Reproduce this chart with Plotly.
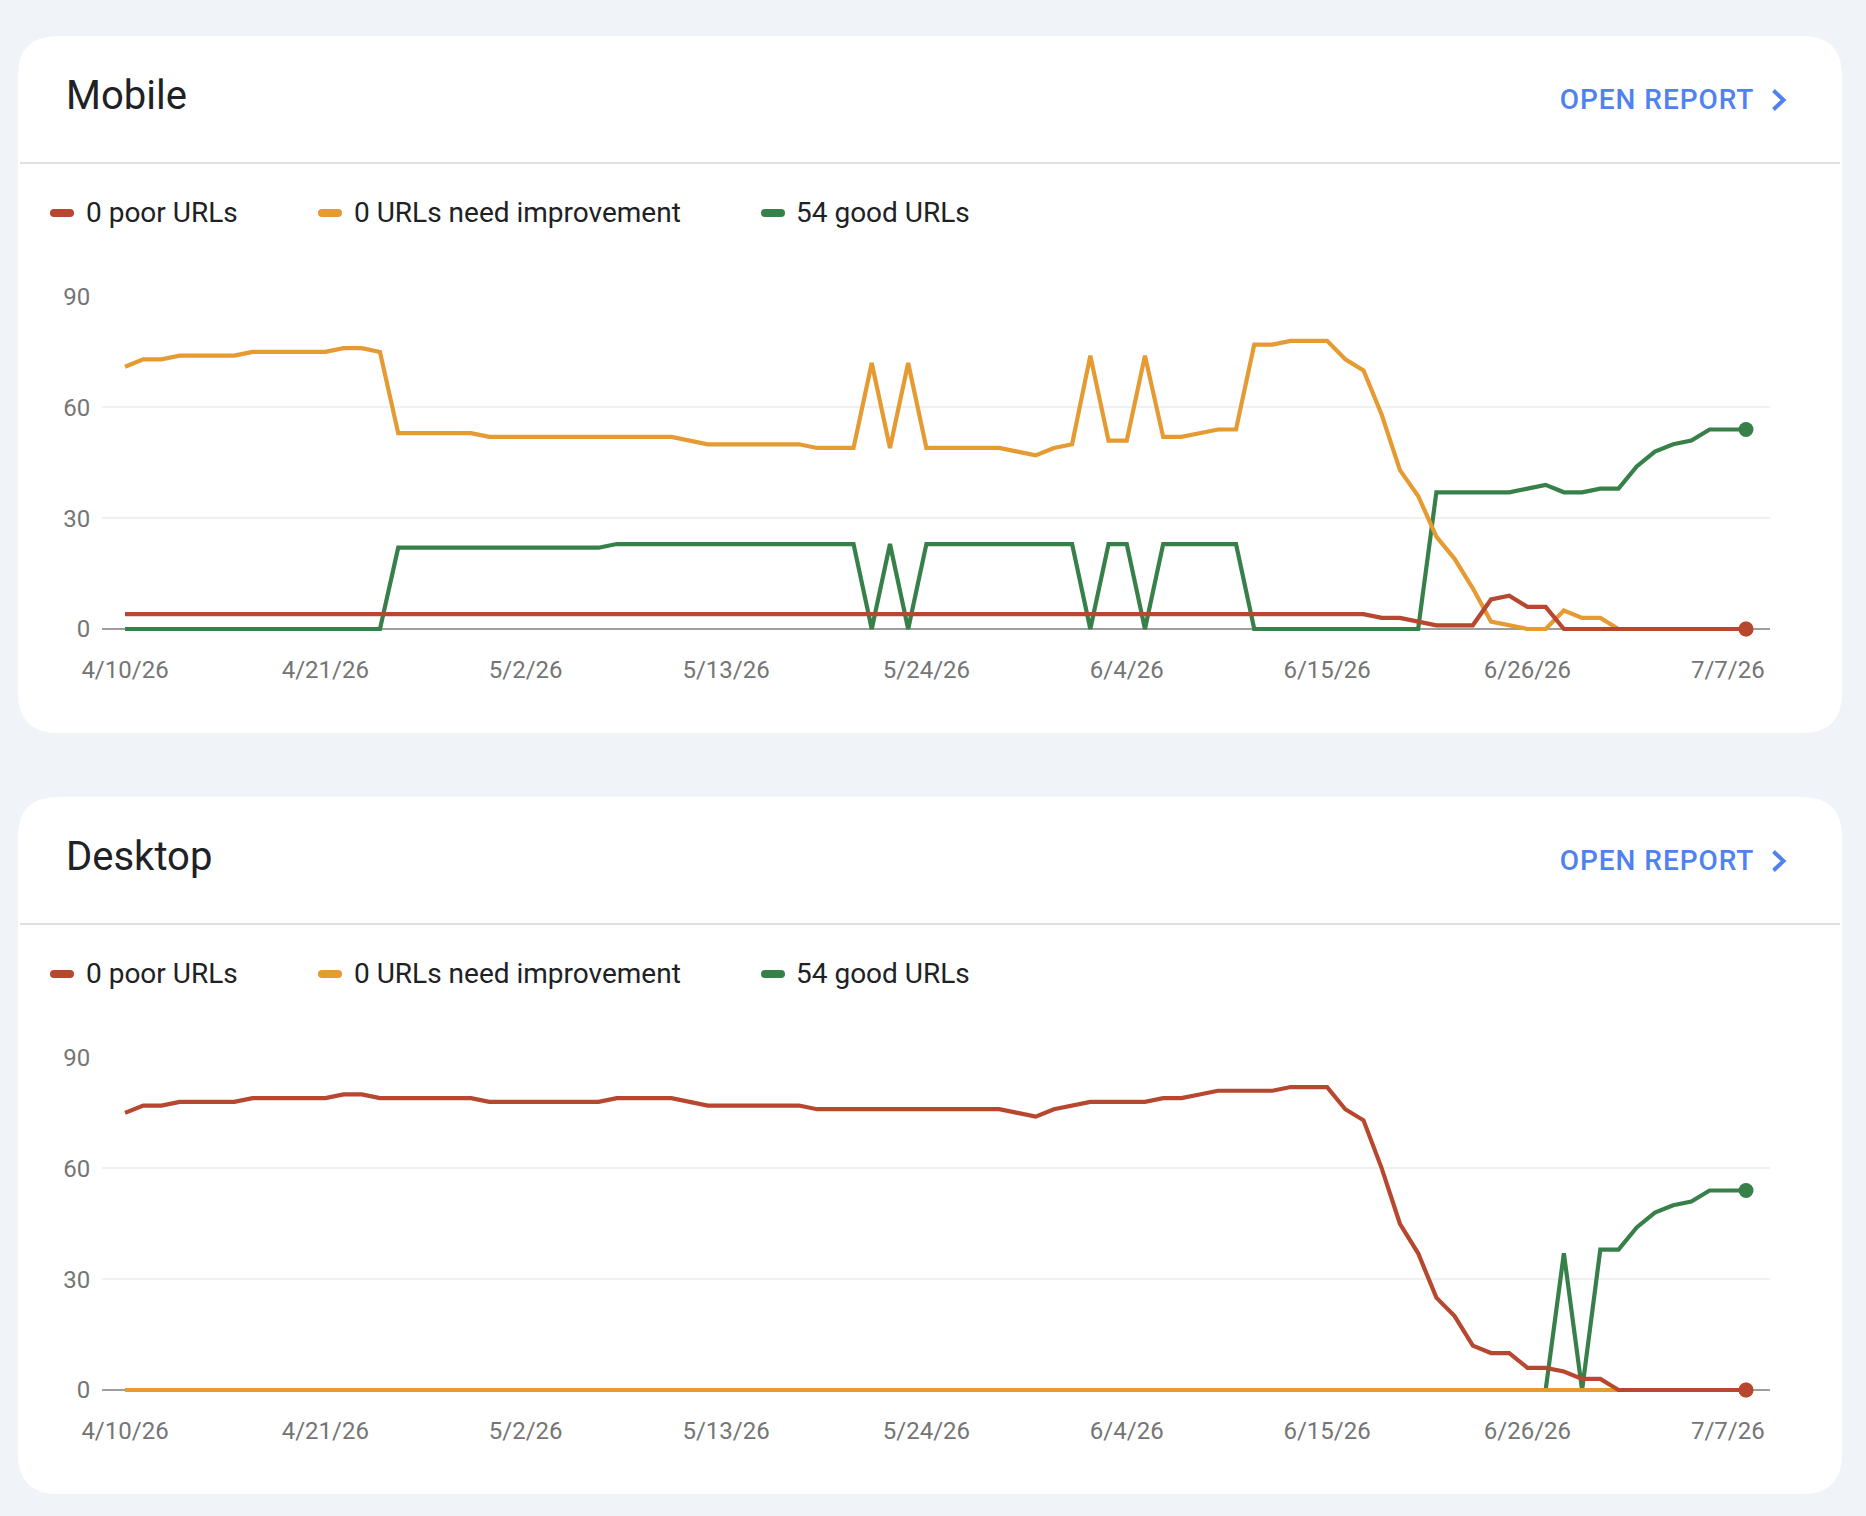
import pandas as pd
import plotly.graph_objects as go

W, H = 1866, 1516
FONT = "Roboto"

# ---- data ----
start_date = "2026-04-10"
n_days = 90
tick_dates = ["2026-04-10", "2026-04-21", "2026-05-02", "2026-05-13", "2026-05-24",
              "2026-06-04", "2026-06-15", "2026-06-26", "2026-07-07"]
tick_labels = ["4/10/26", "4/21/26", "5/2/26", "5/13/26", "5/24/26",
               "6/4/26", "6/15/26", "6/26/26", "7/7/26"]
y_ticks = [0, 30, 60, 90]
card_titles = ["Mobile", "Desktop"]
link_label = "OPEN REPORT"
legend_labels = ["0 poor URLs", "0 URLs need improvement", "54 good URLs"]

mobile_poor = [4, 4, 4, 4, 4, 4, 4, 4, 4, 4,
               4, 4, 4, 4, 4, 4, 4, 4, 4, 4,
               4, 4, 4, 4, 4, 4, 4, 4, 4, 4,
               4, 4, 4, 4, 4, 4, 4, 4, 4, 4,
               4, 4, 4, 4, 4, 4, 4, 4, 4, 4,
               4, 4, 4, 4, 4, 4, 4, 4, 4, 4,
               4, 4, 4, 4, 4, 4, 4, 4, 4, 3,
               3, 2, 1, 1, 1, 8, 9, 6, 6, 0,
               0, 0, 0, 0, 0, 0, 0, 0, 0, 0]
mobile_need = [71, 73, 73, 74, 74, 74, 74, 75, 75, 75,
               75, 75, 76, 76, 75, 53, 53, 53, 53, 53,
               52, 52, 52, 52, 52, 52, 52, 52, 52, 52,
               52, 51, 50, 50, 50, 50, 50, 50, 49, 49,
               49, 72, 49, 72, 49, 49, 49, 49, 49, 48,
               47, 49, 50, 74, 51, 51, 74, 52, 52, 53,
               54, 54, 77, 77, 78, 78, 78, 73, 70, 58,
               43, 36, 25, 19, 11, 2, 1, 0, 0, 5,
               3, 3, 0, 0, 0, 0, 0, 0, 0, 0]
mobile_good = [0, 0, 0, 0, 0, 0, 0, 0, 0, 0,
               0, 0, 0, 0, 0, 22, 22, 22, 22, 22,
               22, 22, 22, 22, 22, 22, 22, 23, 23, 23,
               23, 23, 23, 23, 23, 23, 23, 23, 23, 23,
               23, 0, 23, 0, 23, 23, 23, 23, 23, 23,
               23, 23, 23, 0, 23, 23, 0, 23, 23, 23,
               23, 23, 0, 0, 0, 0, 0, 0, 0, 0,
               0, 0, 37, 37, 37, 37, 37, 38, 39, 37,
               37, 38, 38, 44, 48, 50, 51, 54, 54, 54]

desktop_poor = [75, 77, 77, 78, 78, 78, 78, 79, 79, 79,
                79, 79, 80, 80, 79, 79, 79, 79, 79, 79,
                78, 78, 78, 78, 78, 78, 78, 79, 79, 79,
                79, 78, 77, 77, 77, 77, 77, 77, 76, 76,
                76, 76, 76, 76, 76, 76, 76, 76, 76, 75,
                74, 76, 77, 78, 78, 78, 78, 79, 79, 80,
                81, 81, 81, 81, 82, 82, 82, 76, 73, 60,
                45, 37, 25, 20, 12, 10, 10, 6, 6, 5,
                3, 3, 0, 0, 0, 0, 0, 0, 0, 0]
desktop_need = [0, 0, 0, 0, 0, 0, 0, 0, 0, 0,
                0, 0, 0, 0, 0, 0, 0, 0, 0, 0,
                0, 0, 0, 0, 0, 0, 0, 0, 0, 0,
                0, 0, 0, 0, 0, 0, 0, 0, 0, 0,
                0, 0, 0, 0, 0, 0, 0, 0, 0, 0,
                0, 0, 0, 0, 0, 0, 0, 0, 0, 0,
                0, 0, 0, 0, 0, 0, 0, 0, 0, 0,
                0, 0, 0, 0, 0, 0, 0, 0, 0, 0,
                0, 0, 0, 0, 0, 0, 0, 0, 0, 0]
desktop_good = [0, 0, 0, 0, 0, 0, 0, 0, 0, 0,
                0, 0, 0, 0, 0, 0, 0, 0, 0, 0,
                0, 0, 0, 0, 0, 0, 0, 0, 0, 0,
                0, 0, 0, 0, 0, 0, 0, 0, 0, 0,
                0, 0, 0, 0, 0, 0, 0, 0, 0, 0,
                0, 0, 0, 0, 0, 0, 0, 0, 0, 0,
                0, 0, 0, 0, 0, 0, 0, 0, 0, 0,
                0, 0, 0, 0, 0, 0, 0, 0, 0, 37,
                0, 38, 38, 44, 48, 50, 51, 54, 54, 54]

# ---- style ----
BG = "#f0f4f9"
RED = "#b7472f"
ORANGE = "#e59a32"
GREEN = "#37804a"
BLUE = "#4f82ee"
TEXT = "#202124"
TICK = "#757575"
GRID = "#f0f0f0"
ZERO = "#9e9e9e"
SEP = "#e0e0e0"

dates = pd.date_range(start_date, periods=n_days)
PLOT_L, PLOT_R = 102, 1770
FIRST_X, LAST_X = 125, 1746
day_px = (LAST_X - FIRST_X) / (n_days - 1)
x_range = [dates[0] - pd.Timedelta(days=(FIRST_X - PLOT_L) / day_px),
           dates[-1] + pd.Timedelta(days=(PLOT_R - LAST_X) / day_px)]
x_range = [d.isoformat() for d in x_range]
Y_FLOOR = -3
Y_UNIT = (629 - 296.5) / 90


def px(x):
    return x / W


def py(y):
    return 1 - y / H


def rounded(x0, y0, x1, y1, r):
    X0, X1, Y0, Y1 = px(x0), px(x1), py(y0), py(y1)
    rx, ry = r / W, r / H
    return (f"M{X0 + rx},{Y0} L{X1 - rx},{Y0} Q{X1},{Y0} {X1},{Y0 - ry} "
            f"L{X1},{Y1 + ry} Q{X1},{Y1} {X1 - rx},{Y1} L{X0 + rx},{Y1} "
            f"Q{X0},{Y1} {X0},{Y1 + ry} L{X0},{Y0 - ry} Q{X0},{Y0} {X0 + rx},{Y0} Z")


fig = go.Figure()
shapes, annotations = [], []
OFFSET = 761
cards = [(card_titles[0], mobile_poor, mobile_need, mobile_good, "", 0),
         (card_titles[1], desktop_poor, desktop_need, desktop_good, "2", OFFSET)]

legend_items = [(50, 83.5, RED), (318, 351.5, ORANGE), (761, 794, GREEN)]

for title, poor, need, good, suffix, dy in cards:
    # card
    shapes.append(dict(type="path", xref="paper", yref="paper", layer="below",
                       path=rounded(18, 36 + dy, 1842, 733 + dy, 40),
                       fillcolor="#ffffff", line=dict(width=0)))
    # separator
    shapes.append(dict(type="line", xref="paper", yref="paper", layer="below",
                       x0=px(20), x1=px(1840), y0=py(163 + dy), y1=py(163 + dy),
                       line=dict(color=SEP, width=2)))
    # title
    annotations.append(dict(text=title, xref="paper", yref="paper", x=px(63.5), y=py(95.3 + dy),
                            xanchor="left", yanchor="middle", showarrow=False,
                            font=dict(family=FONT, size=40, color=TEXT)))
    # link
    annotations.append(dict(text=link_label, xref="paper", yref="paper", x=px(1562.5), y=py(99 + dy),
                            xanchor="left", yanchor="middle", showarrow=False,
                            font=dict(family=FONT, size=28, color=BLUE, weight=500)))
    shapes.append(dict(type="path", xref="paper", yref="paper",
                       path=(f"M{px(1773.5)},{py(90.5 + dy)} L{px(1783.5)},{py(100 + dy)} "
                             f"L{px(1773.5)},{py(109.5 + dy)}"),
                       line=dict(color=BLUE, width=4)))
    # legend
    for (sx, tx, col), label in zip(legend_items, legend_labels):
        shapes.append(dict(type="path", xref="paper", yref="paper",
                           path=rounded(sx, 209 + dy, sx + 24, 217 + dy, 4),
                           fillcolor=col, line=dict(width=0)))
        annotations.append(dict(text=label, xref="paper", yref="paper", x=px(tx), y=py(212.5 + dy),
                                xanchor="left", yanchor="middle", showarrow=False,
                                font=dict(family=FONT, size=28, color=TEXT)))
    # axes
    floor_px = 629 + dy - Y_FLOOR * Y_UNIT
    fig.update_layout({
        f"xaxis{suffix}": dict(domain=[px(PLOT_L), px(PLOT_R)], range=x_range, type="date",
                               tickmode="array", tickvals=tick_dates, ticktext=tick_labels,
                               showgrid=False, zeroline=False, showline=False, automargin=False,
                               ticks="outside", ticklen=8.4, tickcolor="rgba(0,0,0,0)",
                               tickfont=dict(family=FONT, size=24, color=TICK),
                               anchor=f"y{suffix}", fixedrange=True),
        f"yaxis{suffix}": dict(domain=[py(floor_px), py(296.5 + dy)], range=[Y_FLOOR, 90],
                               tickmode="array", tickvals=y_ticks, automargin=False,
                               showgrid=True, gridcolor=GRID, gridwidth=2,
                               zeroline=True, zerolinecolor=ZERO, zerolinewidth=2,
                               showline=False, ticks="outside", ticklen=6,
                               tickcolor="rgba(0,0,0,0)",
                               tickfont=dict(family=FONT, size=24, color=TICK),
                               anchor=f"x{suffix}", fixedrange=True),
    })
    # traces: green below, then orange, red on top
    for series, col, label in ((good, GREEN, legend_labels[2]),
                               (need, ORANGE, legend_labels[1]),
                               (poor, RED, legend_labels[0])):
        sizes = [0] * (len(series) - 1) + [15]
        fig.add_trace(go.Scatter(x=dates, y=series, mode="lines+markers", name=label,
                                 xaxis=f"x{suffix}", yaxis=f"y{suffix}", cliponaxis=False,
                                 line=dict(color=col, width=4.2, shape="linear"),
                                 marker=dict(color=col, size=sizes, opacity=1, line=dict(width=0)),
                                 showlegend=False, hoverinfo="skip"))

fig.update_layout(width=W, height=H, margin=dict(l=0, r=0, t=0, b=0, pad=0),
                  autosize=False, paper_bgcolor=BG, plot_bgcolor="rgba(0,0,0,0)",
                  shapes=shapes, annotations=annotations, showlegend=False,
                  font=dict(family=FONT))

fig.write_html("out.html", config=dict(displayModeBar=False),
               post_script=("document.body.style.margin='0';"
                            f"document.body.style.background='{BG}';"
                            "document.documentElement.style.overflow='hidden';"
                            "document.querySelectorAll('.annotation-text').forEach(function(t){"
                            f"if(t.textContent==='{link_label}'){{t.style.letterSpacing='0.95px';}}}});"))
